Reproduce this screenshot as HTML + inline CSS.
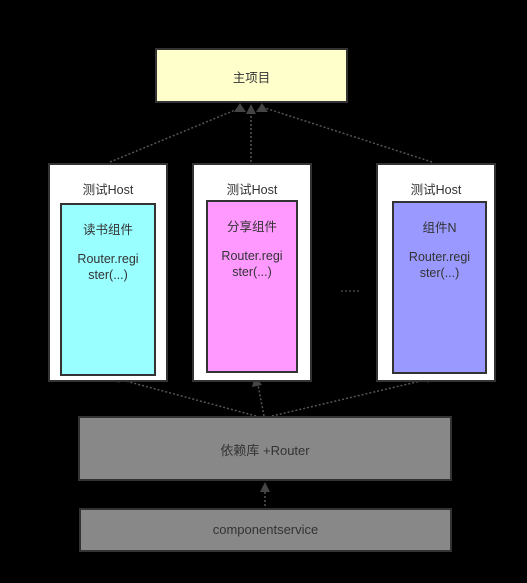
<!DOCTYPE html>
<html><head><meta charset="utf-8"><style>
body{margin:0;background:#000;width:527px;height:583px;overflow:hidden;position:relative;font-family:"Liberation Sans","Noto Sans CJK SC",sans-serif;color:#333}
.b{position:absolute;box-sizing:border-box;border:2px solid #333;text-align:center}
.t{position:absolute;left:0;right:0;text-align:center;font-size:12.5px}
</style></head><body>
<svg width="527" height="583" style="position:absolute;left:0;top:0">
<g stroke="#555" stroke-width="1.5" stroke-dasharray="2,2" fill="none">
<line x1="110" y1="162" x2="240" y2="108"/>
<line x1="251" y1="162" x2="251" y2="112"/>
<line x1="432" y1="162" x2="265" y2="108"/>
<line x1="256" y1="416" x2="122" y2="380"/>
<line x1="264" y1="416" x2="258" y2="385"/>
<line x1="272" y1="416" x2="425" y2="380"/>
<line x1="265" y1="506" x2="265" y2="488"/>
<line x1="341" y1="291" x2="360" y2="291" stroke="#444"/>
</g>
<g fill="#444">
<polygon points="240,103 234,112 246,112"/>
<polygon points="251,104 246,114 256,114"/>
<polygon points="262,103 256,112 268,112"/>
<polygon points="119,383 113,375 125,375"/>
<polygon points="255,376 252,387 262,385"/>
<polygon points="428,383 422,375 434,375"/>
<polygon points="265,482 260,492 270,492"/>
</g>
</svg>
<div class="b" style="left:155px;top:48px;width:193px;height:55px;background:#ffffcc"><div class="t" style="top:17px">主项目</div></div>

<div class="b" style="left:48px;top:163px;width:120px;height:219px;background:#fff"><div class="t" style="top:14px">测试Host</div></div>
<div class="b" style="left:60px;top:203px;width:96px;height:173px;background:#99ffff"><div class="t" style="top:14px">读书组件</div><div class="t" style="top:46px;line-height:16px">Router.regi<br>ster(...)</div></div>

<div class="b" style="left:192px;top:163px;width:120px;height:219px;background:#fff"><div class="t" style="top:14px">测试Host</div></div>
<div class="b" style="left:206px;top:200px;width:92px;height:173px;background:#ff99ff"><div class="t" style="top:14px">分享组件</div><div class="t" style="top:46px;line-height:16px">Router.regi<br>ster(...)</div></div>

<div class="b" style="left:376px;top:163px;width:120px;height:219px;background:#fff"><div class="t" style="top:14px">测试Host</div></div>
<div class="b" style="left:392px;top:201px;width:95px;height:173px;background:#9999ff"><div class="t" style="top:14px">组件N</div><div class="t" style="top:46px;line-height:16px">Router.regi<br>ster(...)</div></div>

<div class="b" style="left:78px;top:416px;width:374px;height:65px;background:#888"><div class="t" style="top:22px;font-size:13px">依赖库 +Router</div></div>
<div class="b" style="left:79px;top:508px;width:373px;height:44px;background:#888"><div class="t" style="top:12px;font-size:13px">componentservice</div></div>
</body></html>
